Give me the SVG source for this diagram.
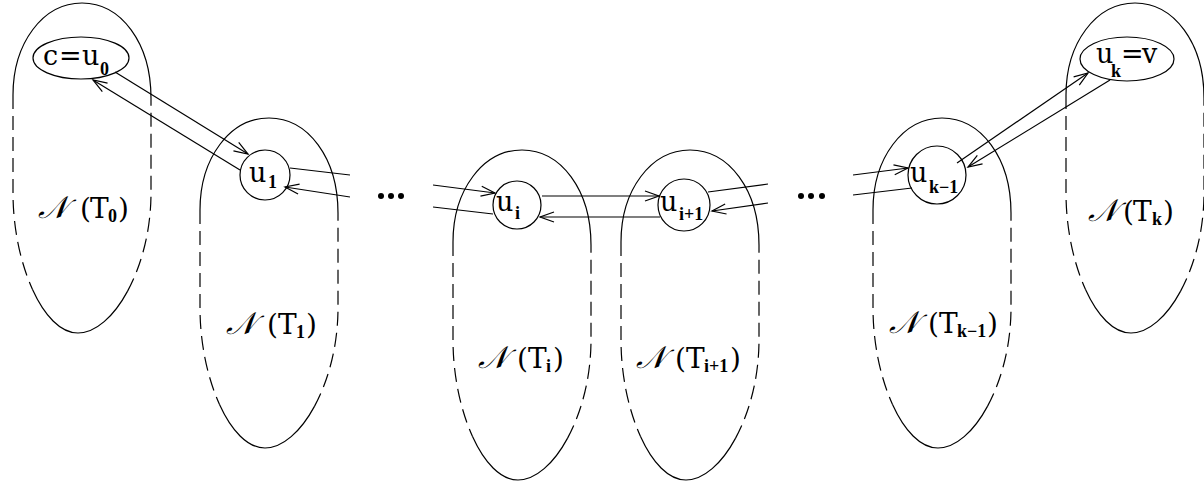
<svg xmlns="http://www.w3.org/2000/svg" width="1204" height="485" viewBox="0 0 1204 485">
<style>
.bg{fill:#fff}
.ln{fill:none;stroke:#000;stroke-width:1.2}
.dash{fill:none;stroke:#000;stroke-width:1.2;stroke-dasharray:14 7}
.t{font-family:"DejaVu Serif","Liberation Serif",serif;font-size:27px;fill:#000}
.lab{font-family:"DejaVu Serif","Liberation Serif",serif;font-size:28px;fill:#000}
.scr{font-family:"DejaVu Serif","DejaVu Sans","Noto Sans",serif;font-style:italic;font-size:31px}
.sub{font-family:"Liberation Serif",serif;font-size:18px;font-weight:bold}
.dot{fill:#000}
</style>
<defs>
<marker id="ah" viewBox="-16 -8 18 16" refX="0" refY="0" markerWidth="18" markerHeight="16" markerUnits="userSpaceOnUse" orient="auto">
<path d="M-14,-5 L0,0 L-14,5" fill="none" stroke="#000" stroke-width="1.2"/>
</marker>
<g id="blob">
<path class="ln" d="M0,92 C0,40 30,0 69,0 C108,0 138,40 138,95"/>
<path class="dash" d="M0,92 L0,190 C0,225 7.5,260 19.4,286.25"/>
<path class="dash" d="M114.6,288.1 C128.5,262.5 138,227.5 138,190 L138,95"/>
<path class="ln" d="M19.4,286.25 C31.25,312.5 47.5,330 65,330 C82.5,330 100.75,313.75 114.6,288.1"/>
</g>
</defs>
<rect class="bg" x="0" y="0" width="1204" height="485"/>

<g id="region-T0"><use href="#blob" transform="translate(13,3)"/>
<text class="lab" y="218"><tspan class="scr" x="38">𝒩</tspan><tspan x="80">(</tspan><tspan x="90">T</tspan><tspan class="sub" x="108" dy="4">0</tspan><tspan x="118" dy="-4">)</tspan></text></g>
<g id="region-T1"><use href="#blob" transform="translate(200,118)"/>
<text class="lab" y="334"><tspan class="scr" x="226">𝒩</tspan><tspan x="267">(</tspan><tspan x="278">T</tspan><tspan class="sub" x="296" dy="4">1</tspan><tspan x="306" dy="-4">)</tspan></text></g>
<g id="region-Ti"><use href="#blob" transform="translate(453,150)"/>
<text class="lab" y="368"><tspan class="scr" x="478">𝒩</tspan><tspan x="517">(</tspan><tspan x="528">T</tspan><tspan class="sub" x="546" dy="4">i</tspan><tspan x="553" dy="-4">)</tspan></text></g>
<g id="region-Ti1"><use href="#blob" transform="translate(621,150)"/>
<text class="lab" y="368"><tspan class="scr" x="636">𝒩</tspan><tspan x="675">(</tspan><tspan x="686">T</tspan><tspan class="sub" x="704" dy="4">i+1</tspan><tspan x="730" dy="-4">)</tspan></text></g>
<g id="region-Tk1"><use href="#blob" transform="translate(873,118)"/>
<text class="lab" y="333"><tspan class="scr" x="889">𝒩</tspan><tspan x="928">(</tspan><tspan x="939">T</tspan><tspan class="sub" x="957" dy="4">k−1</tspan><tspan x="987" dy="-4">)</tspan></text></g>
<g id="region-Tk"><use href="#blob" transform="translate(1066,3)"/>
<text class="lab" y="221"><tspan class="scr" x="1088">𝒩</tspan><tspan x="1123">(</tspan><tspan x="1133">T</tspan><tspan class="sub" x="1152" dy="4">k</tspan><tspan x="1163" dy="-4">)</tspan></text></g>

<g id="connectors">
<path class="ln" d="M115,72 L248,154" marker-end="url(#ah)"/>
<path class="ln" d="M240,170 L93,80" marker-end="url(#ah)"/>
<path class="ln" d="M290,168 L350,175"/>
<path class="ln" d="M350,197 L285,187" marker-end="url(#ah)"/>
<path class="ln" d="M433,185 L495,193" marker-end="url(#ah)"/>
<path class="ln" d="M493,214 L433,207"/>
<path class="ln" d="M542,196 L659,196" marker-end="url(#ah)"/>
<path class="ln" d="M660,217 L540,217" marker-end="url(#ah)"/>
<path class="ln" d="M708,192 L768,184"/>
<path class="ln" d="M768,203 L712,211" marker-end="url(#ah)"/>
<path class="ln" d="M853,175 L908,168" marker-end="url(#ah)"/>
<path class="ln" d="M912,188 L853,195"/>
<path class="ln" d="M957,163 L1088,73" marker-end="url(#ah)"/>
<path class="ln" d="M1110,80 L968,167" marker-end="url(#ah)"/>
</g>

<g id="dots-1"><circle class="dot" cx="381" cy="196" r="3"/><circle class="dot" cx="391" cy="196" r="3"/><circle class="dot" cx="401" cy="196" r="3"/></g>
<g id="dots-2"><circle class="dot" cx="801" cy="196" r="3"/><circle class="dot" cx="811" cy="196" r="3"/><circle class="dot" cx="822" cy="196" r="3"/></g>

<g id="node-u0"><ellipse class="ln" cx="81" cy="58" rx="48" ry="21"/>
<text class="t" y="65"><tspan x="43">c</tspan><tspan x="59">=</tspan><tspan x="82">u</tspan><tspan class="sub" x="100" dy="10">0</tspan></text></g>
<g id="node-u1"><circle class="ln" cx="265" cy="175" r="25"/>
<text class="t" y="182"><tspan x="249">u</tspan><tspan class="sub" x="268" dy="6">1</tspan></text></g>
<g id="node-ui"><circle class="ln" cx="517" cy="205" r="24"/>
<text class="t" y="211"><tspan x="496">u</tspan><tspan class="sub" x="515" dy="8">i</tspan></text></g>
<g id="node-ui1"><circle class="ln" cx="684" cy="205" r="26"/>
<text class="t" y="211"><tspan x="660">u</tspan><tspan class="sub" x="679" dy="9">i+1</tspan></text></g>
<g id="node-uk1"><circle class="ln" cx="937" cy="175" r="29"/>
<text class="t" y="182"><tspan x="910">u</tspan><tspan class="sub" x="929" dy="11">k−1</tspan></text></g>
<g id="node-uk"><ellipse class="ln" cx="1127" cy="59" rx="47" ry="22"/>
<text class="t" y="63"><tspan x="1096">u</tspan><tspan class="sub" x="1111" dy="14">k</tspan><tspan x="1121" dy="-14">=</tspan><tspan x="1142">v</tspan></text></g>
</svg>
